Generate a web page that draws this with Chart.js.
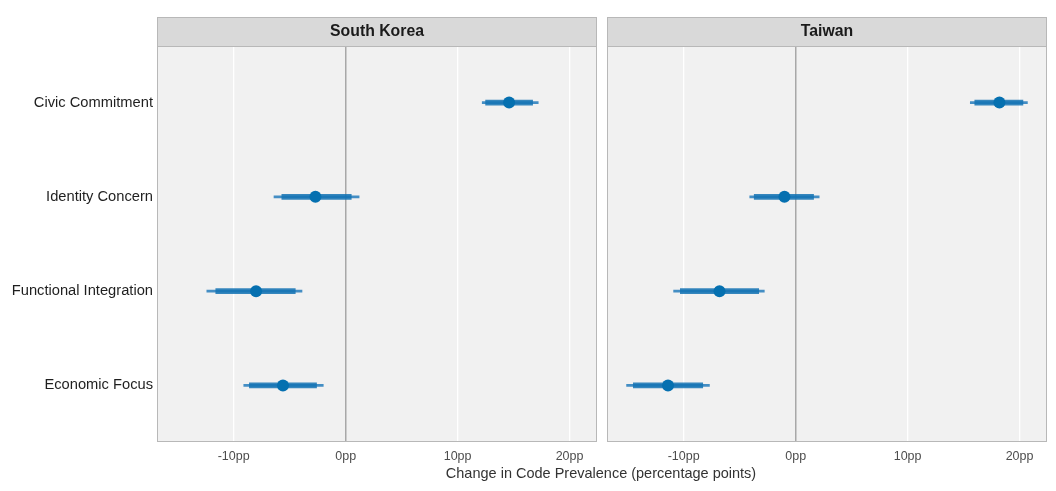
<!DOCTYPE html>
<html>
<head>
<meta charset="utf-8">
<script src="https://cdn.jsdelivr.net/npm/chart.js@4.4.1/dist/chart.umd.min.js"></script>
<style>
  html, body { margin:0; padding:0; background:#ffffff; }
  #wrap { position:relative; width:1056px; height:491px; background:#ffffff; }
  canvas { position:absolute; left:0; top:0; }
</style>
</head>
<body>
<div id="wrap">
  <canvas id="kr" width="1056" height="491"></canvas>
  <canvas id="tw" width="1056" height="491"></canvas>
</div>
<script>
const categories = ['Civic Commitment', 'Identity Concern', 'Functional Integration', 'Economic Focus'];
const panels = ['South Korea', 'Taiwan'];
const xTicks = [-10, 0, 10, 20];
const xTitle = 'Change in Code Prevalence (percentage points)';

const krEst  = [14.6, -2.7, -8.0, -5.6];
const krLo50 = [12.5, -5.7, -11.6, -8.6];
const krHi50 = [16.7, 0.5, -4.5, -2.6];
const krLo95 = [12.2, -6.4, -12.4, -9.1];
const krHi95 = [17.2, 1.2, -3.9, -2.0];

const twEst  = [18.2, -1.0, -6.8, -11.4];
const twLo50 = [16.0, -3.7, -10.3, -14.5];
const twHi50 = [20.3, 1.6, -3.3, -8.3];
const twLo95 = [15.6, -4.1, -10.9, -15.1];
const twHi95 = [20.7, 2.1, -2.8, -7.7];

const FONT = "'Liberation Sans', Arial, Helvetica, sans-serif";

function panelPlugin(title, drawXTitle) {
  return {
    id: 'panel_' + title.replace(/\s/g, ''),
    beforeDraw(chart) {
      const a = chart.chartArea, c = chart.ctx;
      c.save();
      c.fillStyle = '#f1f1f1';
      c.fillRect(a.left, a.top, a.right - a.left, a.bottom - a.top);
      c.restore();
    },
    afterDraw(chart) {
      const a = chart.chartArea, c = chart.ctx;
      c.save();
      c.strokeStyle = '#b8b8b8';
      c.lineWidth = 1;
      c.strokeRect(a.left + 0.5, a.top + 0.5, a.right - a.left - 1, a.bottom - a.top - 1);
      // strip
      c.fillStyle = '#d9d9d9';
      c.fillRect(a.left, 17, a.right - a.left, a.top - 17);
      c.strokeRect(a.left + 0.5, 17.5, a.right - a.left - 1, a.top - 17);
      c.fillStyle = '#1a1a1a';
      c.font = 'bold 15.8px ' + FONT;
      c.textAlign = 'center';
      c.textBaseline = 'middle';
      c.fillText(title, (a.left + a.right) / 2, 32);
      if (drawXTitle) {
        c.fillStyle = '#333333';
        c.font = '14.5px ' + FONT;
        c.fillText(xTitle, 601, 474);
      }
      c.restore();
    }
  };
}

function makeChart(id, title, est, lo50, hi50, lo95, hi95, pad, showY, drawXTitle) {
  const idx = categories.map((_, i) => i + 1);
  return new Chart(document.getElementById(id), {
    type: 'bar',
    data: {
      datasets: [
        {
          label: '95',
          data: idx.map((k, i) => ({ x: [lo95[i], hi95[i]], y: k })),
          backgroundColor: 'rgba(25,118,185,0.8)',
          barThickness: 2,
          grouped: false,
          order: 3
        },
        {
          label: '50',
          data: idx.map((k, i) => ({ x: [lo50[i], hi50[i]], y: k })),
          backgroundColor: 'rgba(20,115,180,0.85)',
          barThickness: 5,
          grouped: false,
          order: 2
        },
        {
          type: 'scatter',
          label: 'est',
          data: idx.map((k, i) => ({ x: est[i], y: k })),
          backgroundColor: '#0570b0',
          borderColor: '#0570b0',
          pointRadius: 6,
          pointBorderWidth: 0,
          order: 1
        }
      ]
    },
    options: {
      responsive: false,
      devicePixelRatio: 1,
      animation: false,
      indexAxis: 'y',
      layout: { padding: pad },
      plugins: { legend: { display: false }, tooltip: { enabled: false } },
      scales: {
        x: {
          type: 'linear',
          min: -16.85,
          max: 22.45,
          offset: false,
          afterBuildTicks: s => { s.ticks = xTicks.map(v => ({ value: v })); },
          afterFit: s => { s.height = 49; },
          border: { display: false },
          grid: {
            offset: false,
            drawTicks: false,
            color: ctx => (ctx.tick && ctx.tick.value === 0) ? '#a8a8a8' : '#ffffff',
            lineWidth: ctx => (ctx.tick && ctx.tick.value === 0) ? 1.5 : 1.3
          },
          ticks: {
            padding: 7,
            color: '#4d4d4d',
            font: { family: FONT, size: 12.5 },
            callback: v => v + 'pp'
          }
        },
        y: {
          type: 'linear',
          display: showY,
          min: 0.4,
          max: 4.6,
          reverse: true,
          offset: false,
          afterBuildTicks: s => { s.ticks = categories.map((_, i) => ({ value: i + 1 })); },
          afterFit: s => { s.width = showY ? 157 : 0; },
          border: { display: false },
          grid: { display: false, drawTicks: false, offset: false },
          ticks: {
            padding: 4,
            color: '#1f1f1f',
            font: { family: FONT, size: 14.7 },
            callback: v => categories[v - 1]
          }
        }
      }
    },
    plugins: [panelPlugin(title, drawXTitle)]
  });
}

makeChart('kr', panels[0], krEst, krLo50, krHi50, krLo95, krHi95,
  { left: 0, top: 46, right: 459, bottom: 0 }, true, false);
makeChart('tw', panels[1], twEst, twLo50, twHi50, twLo95, twHi95,
  { left: 607, top: 46, right: 9, bottom: 0 }, false, true);
</script>
</body>
</html>
